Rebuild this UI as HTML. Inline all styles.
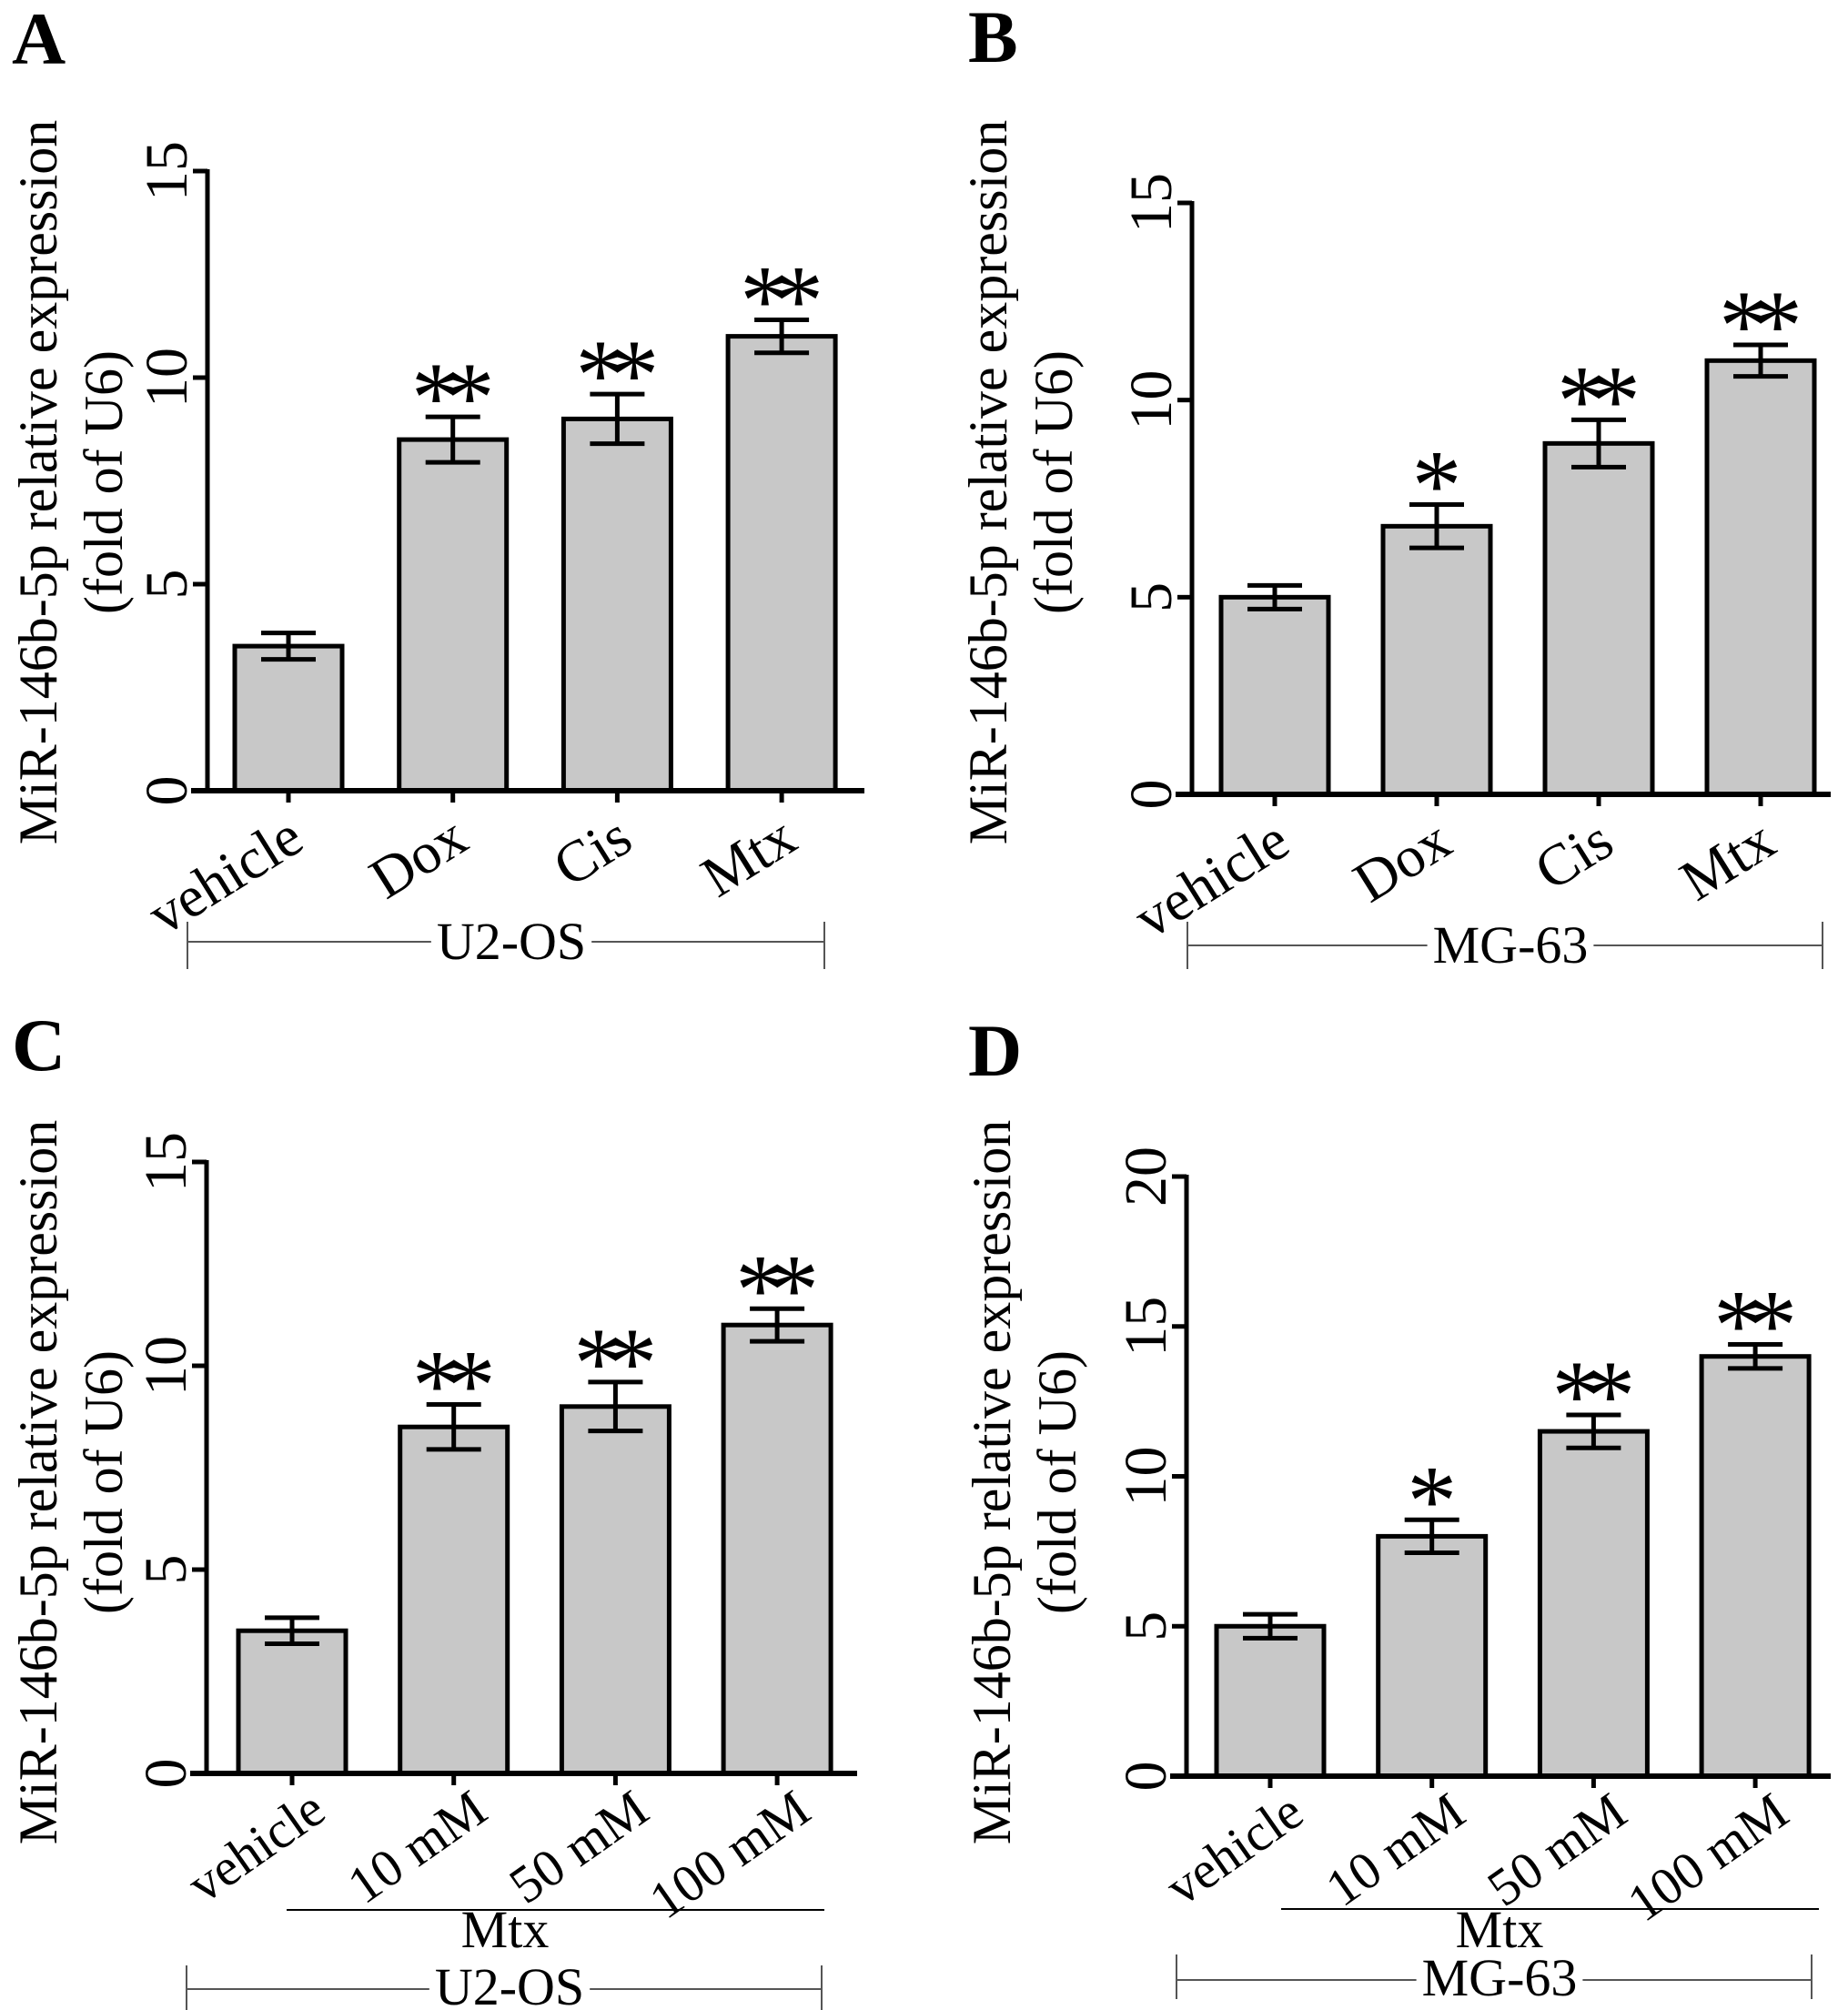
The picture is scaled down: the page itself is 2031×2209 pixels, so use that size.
<!DOCTYPE html>
<html><head><meta charset="utf-8"><style>
html,body{margin:0;padding:0;background:#fff;}
svg{display:block;}
text{font-family:"Liberation Serif","DejaVu Serif",serif;fill:#000;}
</style></head><body>
<svg id="fig" width="2031" height="2209" viewBox="0 0 2031 2209" xmlns="http://www.w3.org/2000/svg"></svg>
<script>
// Panel A data
const catsA = ["vehicle","Dox","Cis","Mtx"];
const valsA = [3.5, 8.5, 9.0, 11.0];
const errsA = [0.32, 0.55, 0.6, 0.4];
const starsA = ["", "**", "**", "**"];
const ticksA = [0, 5, 10, 15];
// Panel B data
const catsB = ["vehicle","Dox","Cis","Mtx"];
const valsB = [5.0, 6.8, 8.9, 11.0];
const errsB = [0.3, 0.55, 0.6, 0.4];
const starsB = ["", "*", "**", "**"];
const ticksB = [0, 5, 10, 15];
// Panel C data
const catsC = ["vehicle","10 mM","50 mM","100 mM"];
const valsC = [3.5, 8.5, 9.0, 11.0];
const errsC = [0.32, 0.55, 0.6, 0.4];
const starsC = ["", "**", "**", "**"];
const ticksC = [0, 5, 10, 15];
// Panel D data
const catsD = ["vehicle","10 mM","50 mM","100 mM"];
const valsD = [5.0, 8.0, 11.5, 14.0];
const errsD = [0.4, 0.55, 0.55, 0.4];
const starsD = ["", "*", "**", "**"];
const ticksD = [0, 5, 10, 15, 20];

const NS = "http://www.w3.org/2000/svg";
const svg = document.getElementById("fig");
function mk(tag, attrs, parent){
  const e = document.createElementNS(NS, tag);
  for (const k in attrs) e.setAttribute(k, attrs[k]);
  (parent||svg).appendChild(e);
  return e;
}

const panels = [
  {id:"a", letter:"A", lx:13, ly:70, cats:catsA, vals:valsA, errs:errsA, stars:starsA, ticks:ticksA,
   ax:228, y0:869, yTop:188, ymax:15, t0:317, step:180.7, axEnd:950, titleX:42, titleY:530, lox:20, loy:62, lfs:64, lang:-32,
   sub:null, grp:{text:"U2-OS", y:1035, x1:206, x2:906, t1:1013, t2:1065, base:1054}},
  {id:"b", letter:"B", lx:1064, ly:68, cats:catsB, vals:valsB, errs:errsB, stars:starsB, ticks:ticksB,
   ax:1310, y0:873, yTop:223, ymax:15, t0:1401, step:178, axEnd:2012, titleX:1086, titleY:530, lox:20, loy:62, lfs:64, lang:-32,
   sub:null, grp:{text:"MG-63", y:1039, x1:1305, x2:2003, t1:1013, t2:1065, base:1058}},
  {id:"c", letter:"C", lx:13, ly:1176, cats:catsC, vals:valsC, errs:errsC, stars:starsC, ticks:ticksC,
   ax:227, y0:1949, yTop:1277, ymax:15, t0:321, step:177.7, axEnd:942, titleX:42, titleY:1629, lox:40, loy:48, lfs:58, lang:-35,
   sub:{text:"Mtx", y:2099, x1:315, x2:906, base:2140, cx:555},
   grp:{text:"U2-OS", y:2186, x1:205, x2:903, t1:2160, t2:2209, base:2203}},
  {id:"d", letter:"D", lx:1064, ly:1182, cats:catsD, vals:valsD, errs:errsD, stars:starsD, ticks:ticksD,
   ax:1304, y0:1952, yTop:1293, ymax:20, t0:1396, step:177.7, axEnd:2012, titleX:1090, titleY:1629, lox:40, loy:48, lfs:58, lang:-35,
   sub:{text:"Mtx", y:2098, x1:1408, x2:1999, base:2140, cx:1648},
   grp:{text:"MG-63", y:2176, x1:1293, x2:1991, t1:2148, t2:2197, base:2193}}
];

panels.forEach(p=>{
  const g = mk("g", {});
  
  
  const yScale = v => p.y0 - (v / p.ymax) * (p.y0 - p.yTop);
  const xScale = i => p.t0 + i * p.step;

  const L = mk("text", {x:p.lx, y:p.ly, "font-size":82, "font-weight":"bold"}, g);
  L.textContent = p.letter;
  
  

  const tt = mk("text", {transform:`translate(${p.titleX},${p.titleY}) rotate(-90)`, "text-anchor":"middle", "font-size":60}, g);
  
  
  const s1 = mk("tspan", {x:0, y:20}, tt); s1.textContent = "MiR-146b-5p relative expression";
  const s2 = mk("tspan", {x:0, y:92}, tt); s2.textContent = "(fold of U6)";

  p.vals.forEach((v,i)=>{
    const cx = xScale(i), w = 118, yt = yScale(v);
    const r = mk("rect", {x:cx-w/2, y:yt, width:w, height:p.y0-yt, fill:"#c8c8c8", stroke:"#000", "stroke-width":5}, g);
    
    
    const e = p.errs[i];
    const eg = mk("g", {stroke:"#000", "stroke-width":5}, g);
    
    
    mk("line", {x1:cx, x2:cx, y1:yScale(v+e), y2:yScale(v-e)}, eg);
    mk("line", {x1:cx-30, x2:cx+30, y1:yScale(v+e), y2:yScale(v+e)}, eg);
    mk("line", {x1:cx-30, x2:cx+30, y1:yScale(v-e), y2:yScale(v-e)}, eg);
    if (p.stars[i]) {
      const two = p.stars[i].length > 1;
      const st = mk("text", {x:cx + (two ? -9 : 0), y:yScale(v+e)+16, "text-anchor":"middle", "font-size":110, "letter-spacing":two?-18:0}, g);
      st.textContent = p.stars[i];
      
      
    }
    const tk = mk("line", {x1:cx, x2:cx, y1:p.y0, y2:p.y0+13, stroke:"#000", "stroke-width":5}, g);
    
    
    const lb = mk("text", {transform:`translate(${cx+p.lox},${p.y0+p.loy}) rotate(${p.lang})`, "text-anchor":"end", "font-size":p.lfs}, g);
    lb.textContent = p.cats[i];
    
    
  });

  const ya = mk("line", {x1:p.ax, x2:p.ax, y1:p.yTop-2, y2:p.y0+2, stroke:"#000", "stroke-width":5}, g);
  
  
  const xa = mk("line", {x1:p.ax-18, x2:p.axEnd, y1:p.y0, y2:p.y0, stroke:"#000", "stroke-width":6}, g);
  
  
  p.ticks.forEach(t=>{
    const y = yScale(t);
    const l = mk("line", {x1:p.ax-16, x2:p.ax, y1:y, y2:y, stroke:"#000", "stroke-width":5}, g);
    
    
    const tl = mk("text", {transform:`translate(${p.ax-23},${y}) rotate(-90)`, "text-anchor":"middle", "font-size":66}, g);
    tl.textContent = String(t);
    
    
  });

  if (p.sub) {
    const sl = mk("line", {x1:p.sub.x1, x2:p.sub.x2, y1:p.sub.y, y2:p.sub.y, stroke:"#000", "stroke-width":2}, g);
    
    
    const st = mk("text", {x:p.sub.cx, y:p.sub.base, "text-anchor":"middle", "font-size":58}, g);
    st.textContent = p.sub.text;
    
    
  }
  const G = p.grp;
  const cx = (G.x1 + G.x2)/2 + 6;
  const gt = mk("text", {x:cx, y:G.base, "text-anchor":"middle", "font-size":58}, g);
  gt.textContent = G.text;
  
  
  const tw = gt.getComputedTextLength ? gt.getComputedTextLength() : 160;
  const bg = mk("g", {stroke:"#555", "stroke-width":2}, g);
  
  
  mk("line", {x1:G.x1, x2:cx - tw/2 - 6, y1:G.y, y2:G.y}, bg);
  mk("line", {x1:cx + tw/2 + 6, x2:G.x2, y1:G.y, y2:G.y}, bg);
  mk("line", {x1:G.x1, x2:G.x1, y1:G.t1, y2:G.t2}, bg);
  mk("line", {x1:G.x2, x2:G.x2, y1:G.t1, y2:G.t2}, bg);
});
</script>
</body></html>
